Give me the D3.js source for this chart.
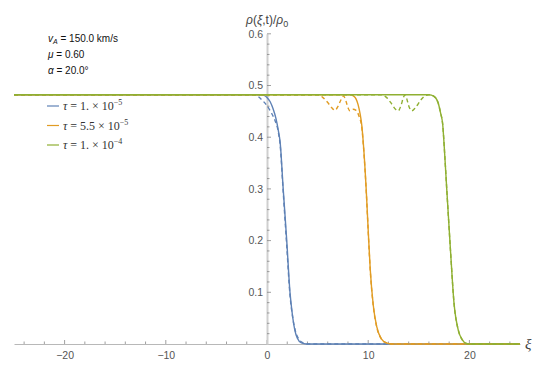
<!DOCTYPE html>
<html>
<head>
<meta charset="utf-8">
<script src="https://cdn.jsdelivr.net/npm/d3@7"></script>
<style>
body { margin: 0; background: #fff; }
text { font-family: "Liberation Sans", Arial, sans-serif; }
.tick { font-size: 10.5px; fill: #555; }
.serif { font-family: "Liberation Serif", "Times New Roman", serif; }
</style>
</head>
<body>
<div id="drawing"></div>
<script>
"use strict"

/**** Configuration ****/
let svgWidth = 545
let svgHeight = 372

/**** DATA ****/
let seriesNames = ["1e-5", "5.5e-5", "1e-4"]
let seriesColors = ["#5E81B5", "#E19C24", "#8FB032"]
let legendMantissa = ["1.", "5.5", "1."]
let legendExponent = ["\u22125", "\u22125", "\u22124"]

// solid curves: [xi, rho/rho0]
let blueSolid = [[-25,0.482],[-1,0.482],[-0.3,0.481],[0,0.477],[0.3,0.469],[0.6,0.455],[0.9,0.435],[1.1,0.415],[1.3,0.39],[1.6,0.30],[1.95,0.20],[2.27,0.10],[2.5,0.058],[2.75,0.027],[3.0,0.011],[3.4,0.002],[3.9,0],[25,0]]
let orangeSolid = [[-25,0.482],[8.2,0.482],[8.6,0.479],[9.0,0.463],[9.2,0.445],[9.36,0.424],[9.55,0.38],[9.8,0.30],[10.0,0.22],[10.2,0.145],[10.5,0.075],[10.85,0.033],[11.3,0.01],[11.8,0.002],[12.3,0],[25,0]]
let greenSolid = [[-25,0.482],[16.0,0.482],[16.5,0.479],[16.9,0.467],[17.15,0.447],[17.36,0.425],[17.55,0.37],[17.76,0.30],[18.15,0.175],[18.48,0.079],[18.9,0.027],[19.3,0.008],[19.7,0.001],[20.2,0],[25,0]]

// dashed curves
let blueDashed = [[-25,0.482],[-1.3,0.482],[-0.9,0.479],[-0.5,0.472],[0,0.461],[0.4,0.448],[0.8,0.432],[1.1,0.412],[1.3,0.385],[1.6,0.295],[1.95,0.19],[2.27,0.095],[2.55,0.05],[2.85,0.022],[3.2,0.008],[3.6,0.002],[4.1,0],[25,0]]
let orangeDashed = [[-25,0.482],[5.0,0.482],[5.5,0.477],[6.0,0.467],[6.4,0.457],[6.72,0.452],[7.0,0.459],[7.3,0.472],[7.55,0.48],[7.8,0.47],[8.0,0.457],[8.2,0.451],[8.5,0.454],[8.8,0.452],[9.1,0.44],[9.36,0.42],[9.55,0.377],[9.8,0.298],[10.0,0.218],[10.2,0.143],[10.5,0.074],[10.85,0.032],[11.3,0.01],[11.8,0.002],[12.3,0],[25,0]]
let greenDashed = [[-25,0.482],[11.3,0.482],[11.8,0.477],[12.3,0.465],[12.7,0.454],[12.97,0.451],[13.25,0.462],[13.5,0.478],[13.64,0.482],[13.8,0.475],[14.0,0.461],[14.3,0.451],[14.7,0.458],[15.2,0.472],[15.7,0.481],[16.0,0.482],[16.5,0.479],[16.9,0.467],[17.15,0.447],[17.36,0.425],[17.55,0.37],[17.76,0.30],[18.15,0.175],[18.48,0.079],[18.9,0.027],[19.3,0.008],[19.7,0.001],[20.2,0],[25,0]]

let solidCurves = [blueSolid, orangeSolid, greenSolid]
let dashedCurves = [blueDashed, orangeDashed, greenDashed]

let xTicks = [-20, -10, 0, 10, 20]
let yTicks = [0.1, 0.2, 0.3, 0.4, 0.5, 0.6]

let paramLines = ["= 150.0 km/s", "= 0.60", "= 20.0\u00b0"]

/**** CANVAS SETUP ****/
let svg = d3.select("#drawing")
.append("svg")
.attr("width", svgWidth)
.attr("height", svgHeight)

/**** SCALES ****/
let xScale = d3.scaleLinear()
.domain([-25, 25])
.range([14, 520])

let yScale = d3.scaleLinear()
.domain([0, 0.6])
.range([344, 33.8])

/**** AXES ****/
let xAxis = d3.axisBottom(xScale)
.tickValues(xTicks)
.tickSize(0)
.tickPadding(8)
.tickFormat(d => d < 0 ? "\u2212" + Math.abs(d) : d)

let gx = svg.append("g")
.attr("transform", `translate(0,${yScale(0)})`)
.call(xAxis)
gx.select(".domain").attr("stroke", "#b8b8b8")
gx.selectAll(".tick text").attr("class", "tick").attr("fill", "#555")

// x tick marks (major + minor, drawn upward)
let xMinor = d3.range(-24, 25, 2)
svg.selectAll("line.xtick")
.data(xMinor)
.join("line")
.attr("class", "xtick")
.attr("x1", d => xScale(d))
.attr("x2", d => xScale(d))
.attr("y1", yScale(0))
.attr("y2", d => yScale(0) - (d % 10 === 0 ? 4 : 2.5))
.attr("stroke", "#888")
.attr("stroke-width", 0.8)

let yAxis = d3.axisLeft(yScale)
.tickValues(yTicks)
.tickSize(0)
.tickPadding(4)
.tickFormat(d3.format(".1f"))

let gy = svg.append("g")
.attr("transform", `translate(${xScale(0)},0)`)
.call(yAxis)
gy.select(".domain").attr("stroke", "#cfcfcf").attr("stroke-width", 2)
gy.selectAll(".tick text").attr("class", "tick").attr("fill", "#555")

let yMinor = d3.range(1, 31).map(i => i * 0.02)
svg.selectAll("line.ytick")
.data(yMinor)
.join("line")
.attr("class", "ytick")
.attr("x1", xScale(0))
.attr("x2", (d, i) => xScale(0) + ((i + 1) % 5 === 0 ? 4 : 2.5))
.attr("y1", d => yScale(d))
.attr("y2", d => yScale(d))
.attr("stroke", "#888")
.attr("stroke-width", 0.8)

/**** AXIS LABELS ****/
let yLab = svg.append("text")
.attr("x", 246)
.attr("y", 24)
.attr("fill", "#444")
.style("font-size", "12px")
yLab.append("tspan").style("font-style", "italic").text("\u03c1")
yLab.append("tspan").text("(")
yLab.append("tspan").style("font-style", "italic").text("\u03be")
yLab.append("tspan").text(",t)/")
yLab.append("tspan").style("font-style", "italic").text("\u03c1")
yLab.append("tspan").attr("dy", 3).style("font-size", "9px").text("0")

svg.append("text")
.attr("class", "serif")
.attr("x", 525)
.attr("y", 349)
.attr("fill", "#444")
.style("font-size", "15px")
.style("font-style", "italic")
.text("\u03be")

/**** CURVES ****/
let line = d3.line()
.x(d => xScale(d[0]))
.y(d => yScale(d[1]))
.curve(d3.curveMonotoneX)

for (let i = 0; i < seriesNames.length; i++) {
    svg.append("path")
    .attr("d", line(dashedCurves[i]))
    .attr("fill", "none")
    .attr("stroke", seriesColors[i])
    .attr("stroke-width", 1.4)
    .attr("stroke-dasharray", "4,3")

    svg.append("path")
    .attr("d", line(solidCurves[i]))
    .attr("fill", "none")
    .attr("stroke", seriesColors[i])
    .attr("stroke-width", 1.4)
}

/**** PARAMETER TEXT ****/
let params = svg.append("g")
.style("font-size", "10px")
.attr("fill", "#111")

let symbols = [["v", "A"], ["\u03bc", null], ["\u03b1", null]]
for (let i = 0; i < paramLines.length; i++) {
    let t = params.append("text")
    .attr("x", 48)
    .attr("y", 42 + i * 16)
    t.append("tspan").style("font-style", "italic").text(symbols[i][0])
    if (symbols[i][1]) {
        t.append("tspan").attr("dy", 2).style("font-size", "7px").style("font-style", "italic").text(symbols[i][1])
        t.append("tspan").attr("dy", -2).text(" " + paramLines[i])
    } else {
        t.append("tspan").text(" " + paramLines[i])
    }
}

/**** LEGEND ****/
let legend = svg.append("g")
.attr("transform", "translate(47,106)")

for (let i = 0; i < seriesNames.length; i++) {
    let row = legend.append("g")
    .attr("transform", `translate(0,${i * 19.5})`)

    row.append("line")
    .attr("x1", 0)
    .attr("x2", 12)
    .attr("y1", 0)
    .attr("y2", 0)
    .attr("stroke", seriesColors[i])
    .attr("stroke-width", 1.2)

    let t = row.append("text")
    .attr("class", "serif")
    .attr("x", 16)
    .attr("y", 4)
    .attr("fill", "#333")
    .style("font-size", "12px")
    t.append("tspan").style("font-style", "italic").text("\u03c4")
    t.append("tspan").text(" = " + legendMantissa[i] + " \u00d7 10")
    t.append("tspan").attr("dy", -5).style("font-size", "8px").text(legendExponent[i])
}
</script>
</body>
</html>
